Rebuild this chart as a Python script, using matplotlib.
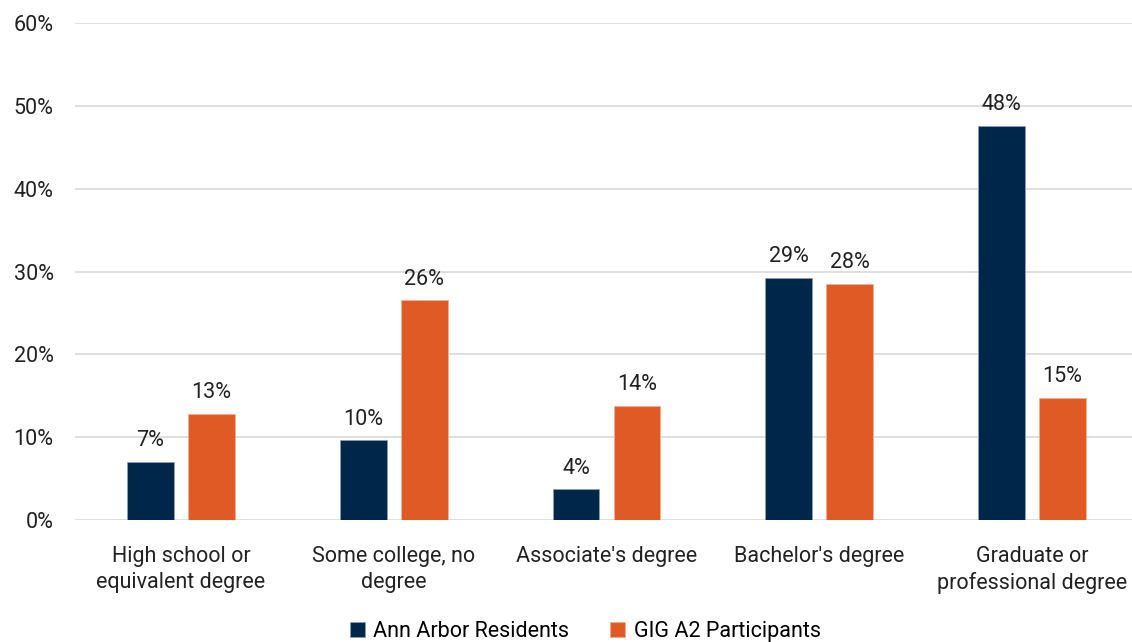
import matplotlib
matplotlib.use("Agg")
import matplotlib.pyplot as plt
import numpy as np

categories = ["High school or\nequivalent degree", "Some college, no\ndegree",
              "Associate's degree", "Bachelor's degree", "Graduate or\nprofessional degree"]
ann_arbor = [7.0, 9.6, 3.7, 29.2, 47.6]
gig_a2 = [12.8, 26.5, 13.8, 28.5, 14.7]
ann_labels = ["7%", "10%", "4%", "29%", "48%"]
gig_labels = ["13%", "26%", "14%", "28%", "15%"]
yticks = [0, 10, 20, 30, 40, 50, 60]
ytick_labels = ["0%", "10%", "20%", "30%", "40%", "50%", "60%"]

plt.rcParams['font.family'] = ['Roboto', 'DejaVu Sans']
navy = "#002649"
orange = "#E05A26"
FS = 15.5

fig = plt.figure(figsize=(11.32, 6.42), dpi=100)
W, H = 1132, 642
ax = fig.add_axes([74.5 / W, 1 - 520 / H, 1064 / W, (520 - 23) / H])

x = np.arange(len(categories))
bw = 0.22
off = 0.143
b1 = ax.bar(x - off, ann_arbor, bw, color=navy, edgecolor="#8aa0b8", linewidth=0.6,
            label="Ann Arbor Residents", zorder=3)
b2 = ax.bar(x + off, gig_a2, bw, color=orange, edgecolor="#f0b090", linewidth=0.6,
            label="GIG A2 Participants", zorder=3)
for rect, lab in zip(b1, ann_labels):
    ax.text(rect.get_x() + rect.get_width() / 2, rect.get_height() + 1.3, lab,
            ha="center", va="bottom", fontsize=FS, color="#222222")
for rect, lab in zip(b2, gig_labels):
    ax.text(rect.get_x() + rect.get_width() / 2, rect.get_height() + 1.3, lab,
            ha="center", va="bottom", fontsize=FS, color="#222222")

ax.set_ylim(0, 60)
ax.set_xlim(-0.5, 4.5)
ax.set_yticks(yticks)
ax.set_yticklabels(ytick_labels, fontsize=FS, color="#222222")
ax.set_xticks(x)
ax.set_xticklabels(categories, fontsize=FS, color="#222222", linespacing=1.3)
ax.tick_params(axis="y", length=0, pad=15)
ax.tick_params(axis="x", length=0, pad=19)
ax.yaxis.grid(True, color="#d9d9d9", linewidth=1.2, zorder=0)
for s in ax.spines.values():
    s.set_visible(False)

fig.legend(handles=[b1, b2], loc="lower center", bbox_to_anchor=(0.517, -0.03), ncol=2,
           frameon=False, fontsize=FS, handlelength=0.7, handleheight=0.7,
           columnspacing=1.9, handletextpad=0.4)

fig.savefig("out.png", dpi=100)
